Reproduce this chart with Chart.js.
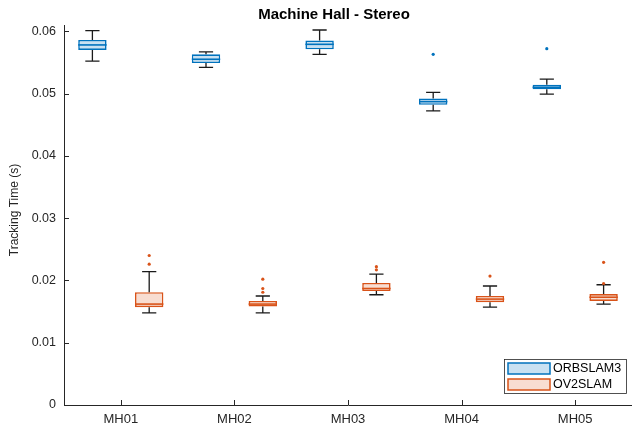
<!DOCTYPE html>
<html>
<head>
<meta charset="utf-8">
<script src="https://cdn.jsdelivr.net/npm/chart.js@4"></script>
<style>
  html, body { margin: 0; padding: 0; background: #fff; }
  #wrap { width: 632px; height: 432px; }
</style>
</head>
<body>
<div id="wrap"><canvas id="boxChart" width="632" height="432"></canvas></div>
<script>
// Categorias e ticks
const labels = ['MH01', 'MH02', 'MH03', 'MH04', 'MH05'];
const yTicks = [0, 0.01, 0.02, 0.03, 0.04, 0.05, 0.06];

// ORBSLAM3 (segundos)
const orbMin = [0.0552, 0.0542, 0.0563, 0.0472, 0.0499];
const orbQ1  = [0.0570, 0.0549, 0.0571, 0.0482, 0.0507];
const orbMed = [0.0578, 0.0555, 0.0579, 0.0487, 0.0510];
const orbQ3  = [0.0586, 0.0563, 0.0585, 0.0492, 0.0514];
const orbMax = [0.0601, 0.0567, 0.0602, 0.0502, 0.0523];
const orbOut = [[], [], [], [0.0563], [0.0572]];

// OV2SLAM (segundos)
const ov2Min = [0.0148, 0.0148, 0.0177, 0.0157, 0.0162];
const ov2Q1  = [0.0157, 0.0158, 0.0183, 0.0165, 0.0167];
const ov2Med = [0.0162, 0.0162, 0.0187, 0.0170, 0.0173];
const ov2Q3  = [0.0181, 0.0167, 0.0196, 0.0175, 0.0178];
const ov2Max = [0.0214, 0.0175, 0.0210, 0.0191, 0.0193];
const ov2Out = [[0.0240, 0.0226], [0.0202, 0.0187, 0.0181], [0.0222, 0.0217], [0.0207], [0.0229, 0.0195]];

const FONT = "'Liberation Sans', Arial, Helvetica, sans-serif";
const INK = '#262626';

const series = [
  { name: 'ORBSLAM3', min: orbMin, q1: orbQ1, med: orbMed, q3: orbQ3, max: orbMax, out: orbOut, edge: '#0072BD', fill: '#c9e1f2' },
  { name: 'OV2SLAM',  min: ov2Min, q1: ov2Q1, med: ov2Med, q3: ov2Q3, max: ov2Max, out: ov2Out, edge: '#D95319', fill: '#f8ddd1' }
];

// bigodes, medianas e outliers
const boxParts = {
  id: 'boxParts',
  afterDatasetsDraw(chart) {
    const ctx = chart.ctx;
    const y = chart.scales.y;
    ctx.save();
    series.forEach((s, di) => {
      chart.getDatasetMeta(di).data.forEach((bar, i) => {
        const { x, width } = bar.getProps(['x', 'width'], true);
        const half = width / 2, cap = width / 4;
        ctx.strokeStyle = '#1a1a1a';
        ctx.lineWidth = 1.3;
        ctx.beginPath();
        ctx.moveTo(x, y.getPixelForValue(s.q3[i]));
        ctx.lineTo(x, y.getPixelForValue(s.max[i]));
        ctx.moveTo(x, y.getPixelForValue(s.q1[i]));
        ctx.lineTo(x, y.getPixelForValue(s.min[i]));
        ctx.moveTo(x - cap, y.getPixelForValue(s.max[i]));
        ctx.lineTo(x + cap, y.getPixelForValue(s.max[i]));
        ctx.moveTo(x - cap, y.getPixelForValue(s.min[i]));
        ctx.lineTo(x + cap, y.getPixelForValue(s.min[i]));
        ctx.stroke();

        ctx.strokeStyle = s.edge;
        ctx.lineWidth = 1.6;
        ctx.beginPath();
        ctx.moveTo(x - half, y.getPixelForValue(s.med[i]));
        ctx.lineTo(x + half, y.getPixelForValue(s.med[i]));
        ctx.stroke();

        ctx.fillStyle = s.edge;
        s.out[i].forEach(v => {
          ctx.beginPath();
          ctx.arc(x, y.getPixelForValue(v), 1.6, 0, Math.PI * 2);
          ctx.fill();
        });
      });
    });
    ctx.restore();
  },
  afterDraw(chart) {
    const ctx = chart.ctx;
    const area = chart.chartArea;
    const xs = chart.scales.x, ys = chart.scales.y;
    ctx.save();

    // ticks para dentro
    ctx.strokeStyle = INK;
    ctx.lineWidth = 1;
    ctx.beginPath();
    yTicks.forEach(v => {
      const py = Math.round(ys.getPixelForValue(v)) + 0.5;
      ctx.moveTo(area.left, py);
      ctx.lineTo(area.left + 5, py);
    });
    labels.forEach((l, i) => {
      const px = Math.round(xs.getPixelForValue(i)) + 0.5;
      ctx.moveTo(px, area.bottom);
      ctx.lineTo(px, area.bottom - 5);
    });
    ctx.stroke();

    // titulo
    ctx.fillStyle = '#000';
    ctx.font = 'bold 15px ' + FONT;
    ctx.textAlign = 'center';
    ctx.textBaseline = 'alphabetic';
    ctx.fillText('Machine Hall - Stereo', 334, 19);

    // rotulo do eixo y
    ctx.fillStyle = INK;
    ctx.font = '12px ' + FONT;
    ctx.save();
    ctx.translate(15, 210);
    ctx.rotate(-Math.PI / 2);
    ctx.textBaseline = 'middle';
    ctx.fillText('Tracking Time (s)', 0, 0);
    ctx.restore();

    // legenda
    const lx = area.right - 128, ly = area.bottom - 46;
    ctx.fillStyle = '#fff';
    ctx.fillRect(lx, ly, 122, 34);
    ctx.strokeStyle = INK;
    ctx.lineWidth = 0.8;
    ctx.strokeRect(lx + 0.5, ly + 0.5, 122, 34);
    series.forEach((s, k) => {
      const sy = ly + 4 + k * 16;
      ctx.fillStyle = s.fill;
      ctx.fillRect(lx + 4, sy, 42, 11);
      ctx.strokeStyle = s.edge;
      ctx.lineWidth = 1.5;
      ctx.strokeRect(lx + 4, sy, 42, 11);
      ctx.fillStyle = '#000';
      ctx.font = '12.5px ' + FONT;
      ctx.textAlign = 'left';
      ctx.textBaseline = 'middle';
      ctx.fillText(s.name, lx + 49, sy + 6);
    });
    ctx.restore();
  }
};

const ctxBox = document.getElementById('boxChart');
new Chart(ctxBox, {
  type: 'bar',
  data: {
    labels: labels,
    datasets: series.map(s => ({
      label: s.name,
      data: s.q1.map((v, i) => [v, s.q3[i]]),
      backgroundColor: s.fill,
      borderColor: s.edge,
      borderWidth: 1.6,
      borderSkipped: false,
      categoryPercentage: 1.0,
      barPercentage: 0.5
    }))
  },
  options: {
    responsive: false,
    animation: false,
    layout: { padding: { top: 25, right: 0, bottom: 0, left: 0 } },
    plugins: {
      legend: { display: false },
      title: { display: false },
      tooltip: { enabled: false }
    },
    scales: {
      x: {
        grid: { display: false, drawTicks: false },
        border: { display: true, color: INK, width: 1 },
        ticks: { color: INK, font: { family: FONT, size: 13 }, padding: 7 },
        afterFit: s => { s.height = 27; }
      },
      y: {
        min: 0,
        max: 0.061,
        grid: { display: false, drawTicks: false },
        border: { display: true, color: INK, width: 1 },
        ticks: {
          color: INK,
          font: { family: FONT, size: 12.5 },
          padding: 8,
          callback: v => (v === 0 ? '0' : v.toFixed(2))
        },
        afterBuildTicks: s => { s.ticks = yTicks.map(v => ({ value: v })); },
        afterFit: s => { s.width = 64; }
      }
    }
  },
  plugins: [boxParts]
});
</script>
</body>
</html>
